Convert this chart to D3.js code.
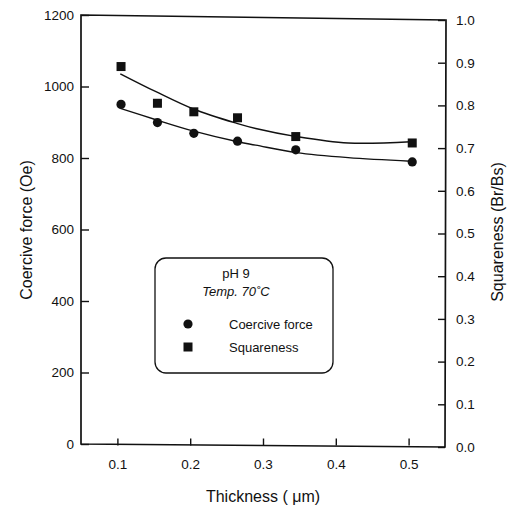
<!DOCTYPE html>
<html><head><meta charset="utf-8">
<script src="https://cdn.jsdelivr.net/npm/d3@7"></script>
<style>body{margin:0;background:#fff}svg{display:block}text{font-family:"Liberation Sans",Arial,sans-serif;fill:#111}</style>
</head><body><div id="chart"></div>
<script>
const thickness = [0.105, 0.155, 0.205, 0.265, 0.345, 0.505];
const coerciveForce = [950, 899, 869, 847, 823, 789];
const squareness = [0.891, 0.805, 0.785, 0.771, 0.727, 0.712];
const fitThickness = [0.104, 0.153, 0.205, 0.264, 0.29, 0.346, 0.417, 0.503];
const coerciveFit = [939, 907, 875, 846, 836, 815, 801, 791];
const squarenessFit = [0.874, 0.832, 0.791, 0.758, 0.746, 0.727, 0.712, 0.715];
const xTicks = [0.1, 0.2, 0.3, 0.4, 0.5];
const leftTicks = [0, 200, 400, 600, 800, 1000, 1200];
const rightTicks = [0, 0.1, 0.2, 0.3, 0.4, 0.5, 0.6, 0.7, 0.8, 0.9, 1.0];

const W = 511, H = 509;
const L = 81, R = 445;
const svg = d3.select("#chart").append("svg").attr("width", W).attr("height", H);
const x = d3.scaleLinear().domain([0.05, 0.55]).range([L, R]);
const yL = d3.scaleLinear().domain([0, 1200]).range([444, 15]);
const yR = d3.scaleLinear().domain([0, 1]).range([447, 20]);

// frame (scanned original is slightly skewed)
svg.append("path")
  .attr("d", `M${L},${yL(1200)} L${R + 1},${yR(1)} L${R},${yR(0)} L${L},${yL(0)} Z`)
  .attr("fill", "none").attr("stroke", "#111").attr("stroke-width", 1.7);

const fs = "13.5px";
const gx = svg.append("g").attr("transform", `translate(0,445.5)`)
  .call(d3.axisBottom(x).tickValues(xTicks).tickSizeInner(-7).tickSizeOuter(0).tickPadding(14).tickFormat(d3.format(".1f")));
const gl = svg.append("g").attr("transform", `translate(${L},0)`)
  .call(d3.axisLeft(yL).tickValues(leftTicks).tickSizeInner(-8).tickSizeOuter(0).tickPadding(7).tickFormat(d3.format("d")));
const gr = svg.append("g").attr("transform", `translate(${R},0)`)
  .call(d3.axisRight(yR).tickValues(rightTicks).tickSizeInner(-7).tickSizeOuter(0).tickPadding(11).tickFormat(d3.format(".1f")));
[gx, gl, gr].forEach(g => {
  g.select(".domain").remove();
  g.selectAll(".tick line").attr("stroke", "#111").attr("stroke-width", 1.4);
  g.selectAll(".tick text").style("font-size", fs).style("font-family", "'Liberation Sans',Arial,sans-serif").attr("fill", "#111");
});

// axis titles
svg.append("text").attr("x", x(0.3)).attr("y", 502).attr("text-anchor", "middle")
  .style("font-size", "16px").text("Thickness ( μm)");
svg.append("text").attr("transform", `translate(32,230) rotate(-90)`).attr("text-anchor", "middle")
  .style("font-size", "16px").text("Coercive force (Oe)");
svg.append("text").attr("transform", `translate(503,232) rotate(-90)`).attr("text-anchor", "middle")
  .style("font-size", "16px").text("Squareness (Br/Bs)");

// fit curves
const lineL = d3.line().x((d, i) => x(fitThickness[i])).y(d => yL(d)).curve(d3.curveCatmullRom.alpha(0.5));
const lineR = d3.line().x((d, i) => x(fitThickness[i])).y(d => yR(d)).curve(d3.curveCatmullRom.alpha(0.5));
svg.append("path").attr("d", lineL(coerciveFit)).attr("fill", "none").attr("stroke", "#111").attr("stroke-width", 1.4);
svg.append("path").attr("d", lineR(squarenessFit)).attr("fill", "none").attr("stroke", "#111").attr("stroke-width", 1.4);

// markers
svg.selectAll("circle.cf").data(coerciveForce).enter().append("circle")
  .attr("cx", (d, i) => x(thickness[i])).attr("cy", d => yL(d)).attr("r", 4.6).attr("fill", "#111");
const sq = 9;
svg.selectAll("rect.sq").data(squareness).enter().append("rect")
  .attr("x", (d, i) => x(thickness[i]) - sq / 2).attr("y", d => yR(d) - sq / 2)
  .attr("width", sq).attr("height", sq).attr("fill", "#111");

// legend
const lg = svg.append("g");
lg.append("rect").attr("x", 155).attr("y", 258).attr("width", 178).attr("height", 115)
  .attr("rx", 11).attr("fill", "#fff").attr("stroke", "#111").attr("stroke-width", 1.3);
lg.append("text").attr("x", 236).attr("y", 278).attr("text-anchor", "middle").style("font-size", "13px").text("pH 9");
lg.append("text").attr("x", 236).attr("y", 296).attr("text-anchor", "middle").style("font-size", "13px")
  .style("font-style", "italic").text("Temp. 70˚C");
lg.append("circle").attr("cx", 188).attr("cy", 324).attr("r", 4.6).attr("fill", "#111");
lg.append("rect").attr("x", 188 - sq / 2).attr("y", 347 - sq / 2).attr("width", sq).attr("height", sq).attr("fill", "#111");
lg.append("text").attr("x", 229).attr("y", 329).style("font-size", "13px").text("Coercive force");
lg.append("text").attr("x", 229).attr("y", 352).style("font-size", "13px").text("Squareness");
</script></body></html>
